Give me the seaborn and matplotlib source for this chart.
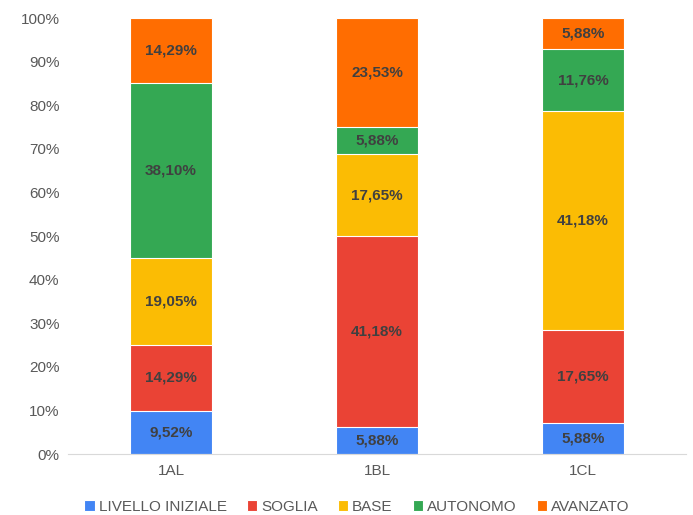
import numpy as np
import pandas as pd
import seaborn as sns
import matplotlib.pyplot as plt
from matplotlib.ticker import FuncFormatter

# dati: percentuali come mostrate nelle etichette
classi = ["1AL", "1BL", "1CL"]
livelli = ["LIVELLO INIZIALE", "SOGLIA", "BASE", "AUTONOMO", "AVANZATO"]
liv_iniziale = [9.52, 5.88, 5.88]
soglia = [14.29, 41.18, 17.65]
base = [19.05, 17.65, 41.18]
autonomo = [38.10, 5.88, 11.76]
avanzato = [14.29, 23.53, 5.88]
colori = ["#4285F4", "#EA4335", "#FBBC04", "#34A853", "#FF6D01"]

sns.set_style("white")
plt.rcParams["font.family"] = ["Liberation Sans", "DejaVu Sans"]

df = pd.DataFrame({"classe": classi, "LIVELLO INIZIALE": liv_iniziale, "SOGLIA": soglia,
                   "BASE": base, "AUTONOMO": autonomo, "AVANZATO": avanzato})
vals = df[livelli].to_numpy()
# grafico 100% in pila: normalizzo ogni barra
norm = vals / vals.sum(axis=1, keepdims=True) * 100
cum = norm.cumsum(axis=1)

fig = plt.figure(figsize=(6.93, 5.15), dpi=100)
ax = fig.add_axes([0.098, 0.118, 0.892, 0.847])

# disegno dall'alto verso il basso (barre sovrapposte)
for i in range(len(livelli) - 1, -1, -1):
    sns.barplot(x=classi, y=cum[:, i], color=colori[i], width=0.4, ax=ax,
                edgecolor="white", linewidth=0.8, saturation=1, label=livelli[i])
if ax.get_legend() is not None:
    ax.get_legend().remove()

for j in range(len(classi)):
    for i in range(len(livelli)):
        mid = cum[j, i] - norm[j, i] / 2
        ax.text(j, mid, f"{vals[j, i]:.2f}%".replace(".", ","), ha="center", va="center",
                fontsize=11, fontweight="bold", color="#404040")

ax.set_ylim(0, 100)
ax.set_yticks(np.arange(0, 101, 10))
ax.yaxis.set_major_formatter(FuncFormatter(lambda v, p: f"{v:.0f}%"))
ax.set_xlim(-0.5, 2.5)
ax.tick_params(axis="both", labelsize=11, labelcolor="#595959", length=0)
ax.tick_params(axis="x", pad=7)
ax.tick_params(axis="y", pad=6)
for s in ["top", "right", "left"]:
    ax.spines[s].set_visible(False)
ax.spines["bottom"].set_color("#d9d9d9")
ax.set_xlabel("")
ax.set_ylabel("")

h, l = ax.get_legend_handles_labels()
order = [l.index(n) for n in livelli]
leg = fig.legend([h[k] for k in order], livelli, loc="lower center", ncol=5, frameon=False,
                 bbox_to_anchor=(0.515, -0.025), fontsize=11, handlelength=0.7, handleheight=0.7,
                 handletextpad=0.25, columnspacing=1.3)
for t in leg.get_texts():
    t.set_color("#595959")

fig.savefig("out.png", dpi=100)
